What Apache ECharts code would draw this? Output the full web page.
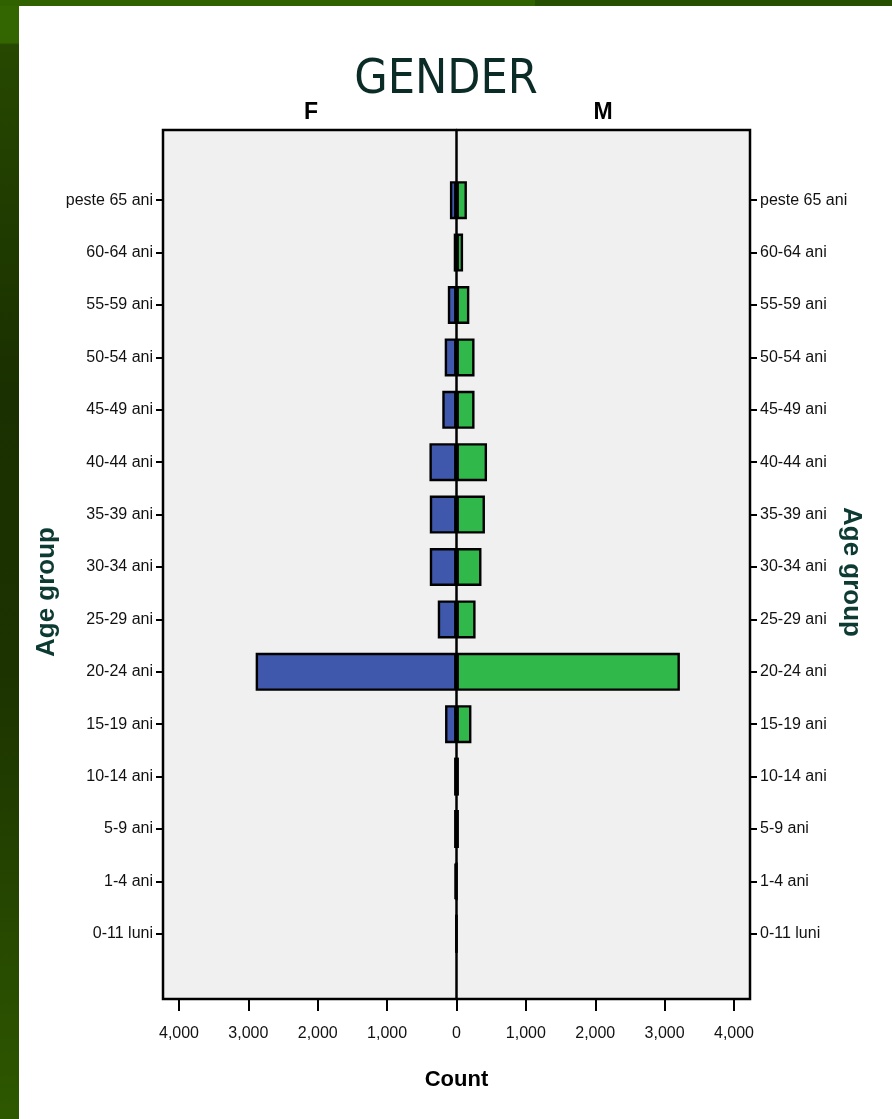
<!DOCTYPE html>
<html>
<head>
<meta charset="utf-8">
<script src="https://cdn.jsdelivr.net/npm/echarts@6/dist/echarts.min.js"></script>
<style>
html,body{margin:0;padding:0;background:#fff;}
#c{width:892px;height:1119px;}
</style>
</head>
<body>
<div id="c"></div>
<script>
var categories = ['peste 65 ani','60-64 ani','55-59 ani','50-54 ani','45-49 ani','40-44 ani','35-39 ani','30-34 ani','25-29 ani','20-24 ani','15-19 ani','10-14 ani','5-9 ani','1-4 ani','0-11 luni'];
var femaleCounts = [95, 40, 125, 170, 205, 390, 385, 385, 270, 2895, 165, 35, 35, 30, 2];
var maleCounts   = [150, 95, 185, 260, 260, 440, 410, 360, 275, 3220, 215, 35, 35, 3, 0];
var xTicks = [-4000, -3000, -2000, -1000, 0, 1000, 2000, 3000, 4000];

var SANS = '"Liberation Sans",Arial,sans-serif';
var COND = '"DejaVu Sans Condensed","DejaVu Sans",sans-serif';
var chart = echarts.init(document.getElementById('c'));
function fmt(v){ return Math.abs(v).toLocaleString('en-US'); }

var catAxisCommon = {
  type: 'category', gridIndex: 1, data: categories, inverse: true, offset: 16,
  axisLine: {show: false, onZero: false},
  axisTick: {show: true, alignWithLabel: true, length: 7, lineStyle: {color: '#000', width: 2}},
  axisLabel: {color: '#111', fontFamily: SANS, fontSize: 16, margin: 10},
  splitLine: {show: false}
};

chart.setOption({
  backgroundColor: '#ffffff',
  animation: false,
  graphic: [
    {type: 'rect', shape: {x: 0, y: 0, width: 19, height: 1119}, z: 0,
     style: {fill: new echarts.graphic.LinearGradient(0, 0, 0, 1, [
       {offset: 0, color: '#336600'}, {offset: 0.038, color: '#336600'},
       {offset: 0.04, color: '#264800'}, {offset: 0.35, color: '#1a3000'},
       {offset: 0.6, color: '#1c3300'}, {offset: 1, color: '#2e5800'}])}},
    {type: 'rect', shape: {x: 0, y: 0, width: 535, height: 6}, z: 0, style: {fill: '#306200'}},
    {type: 'rect', shape: {x: 535, y: 0, width: 357, height: 6}, z: 0, style: {fill: '#265000'}},
    {type: 'text', left: 'center', top: 57, z: 10,
     style: {text: 'GENDER', font: 'normal 48px ' + COND, fill: '#0b2b26'}},
    {type: 'text', x: 311, y: 113, z: 10,
     style: {text: 'F', font: 'bold 23px ' + SANS, fill: '#000', textAlign: 'center', textVerticalAlign: 'middle'}},
    {type: 'text', x: 603, y: 113, z: 10,
     style: {text: 'M', font: 'bold 23px ' + SANS, fill: '#000', textAlign: 'center', textVerticalAlign: 'middle'}},
    {type: 'text', x: 47, y: 592, rotation: Math.PI / 2, z: 10,
     style: {text: 'Age group', font: 'bold 26px ' + SANS, fill: '#0d3a32', textAlign: 'center', textVerticalAlign: 'middle'}},
    {type: 'text', x: 851, y: 572, rotation: -Math.PI / 2, z: 10,
     style: {text: 'Age group', font: 'bold 26px ' + SANS, fill: '#0d3a32', textAlign: 'center', textVerticalAlign: 'middle'}}
  ],
  grid: [
    {left: 163, right: 142, top: 130, bottom: 120, show: true, backgroundColor: '#f0f0f0', borderColor: '#000', borderWidth: 2.5},
    {left: 179, right: 158, top: 174, bottom: 159, show: false}
  ],
  xAxis: [
    {type: 'value', gridIndex: 0, min: -1, max: 1, axisLine: {show: false}, axisTick: {show: false}, axisLabel: {show: false}, splitLine: {show: false}},
    {type: 'value', gridIndex: 1, min: -4000, max: 4000, interval: 1000, position: 'bottom', offset: 39,
     axisLine: {show: false, onZero: false},
     axisTick: {show: true, length: 12, lineStyle: {color: '#000', width: 2}},
     axisLabel: {color: '#111', fontFamily: SANS, fontSize: 16, margin: 27, formatter: fmt},
     splitLine: {show: false},
     name: 'Count', nameLocation: 'middle', nameGap: 70,
     nameTextStyle: {color: '#000', fontFamily: SANS, fontWeight: 'bold', fontSize: 22}}
  ],
  yAxis: [
    {type: 'value', gridIndex: 0, min: 0, max: 1, z: 5,
     axisLine: {show: true, onZero: true, lineStyle: {color: '#000', width: 2.5}},
     axisTick: {show: false}, axisLabel: {show: false}, splitLine: {show: false}},
    Object.assign({}, catAxisCommon, {position: 'left'}),
    Object.assign({}, catAxisCommon, {position: 'right'})
  ],
  series: [
    {name: 'F', type: 'bar', xAxisIndex: 1, yAxisIndex: 1, stack: 'g', barWidth: 38,
     data: femaleCounts.map(function(v){ return -v; }),
     itemStyle: {color: '#4058ab', borderColor: '#000', borderWidth: 2.4}},
    {name: 'M', type: 'bar', xAxisIndex: 1, yAxisIndex: 1, stack: 'g', barWidth: 38,
     data: maleCounts,
     itemStyle: {color: '#31b84a', borderColor: '#000', borderWidth: 2.4}}
  ]
});
</script>
</body>
</html>
